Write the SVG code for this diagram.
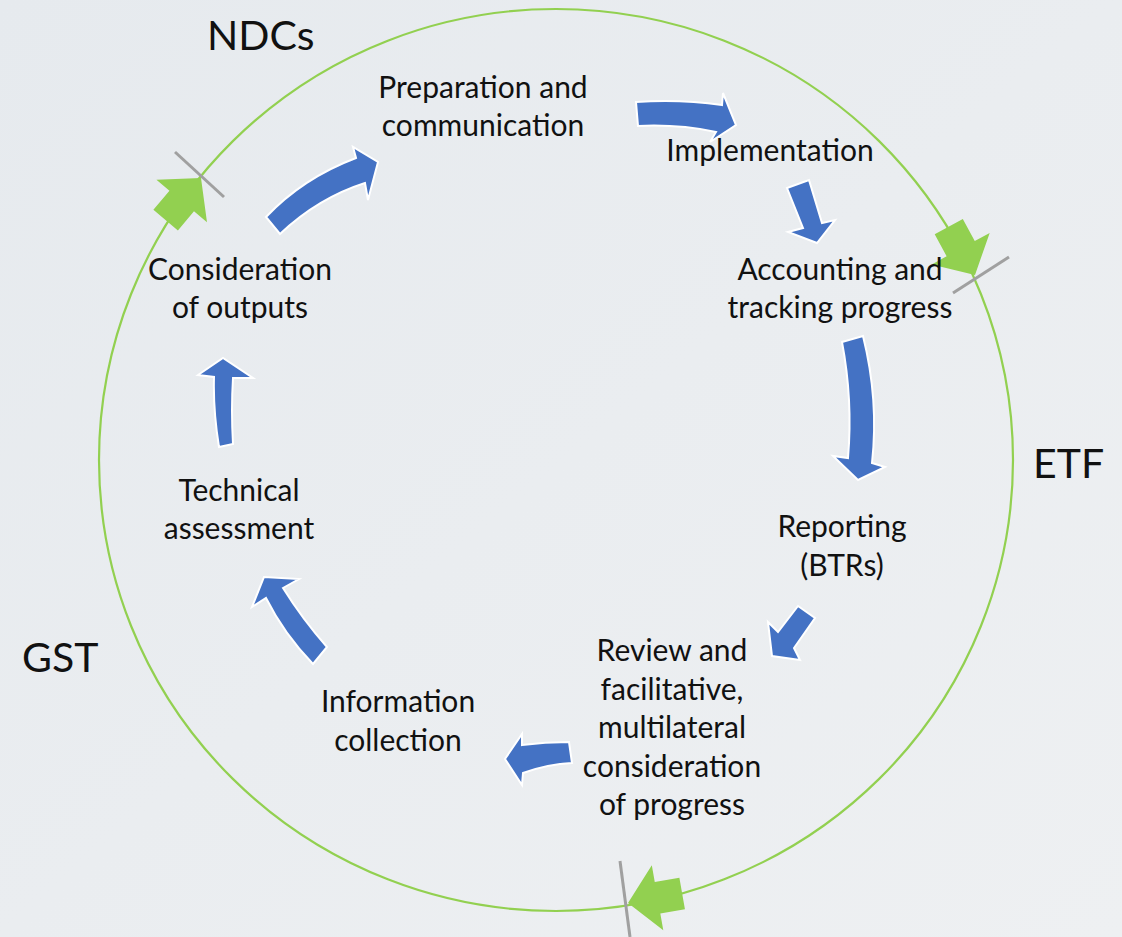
<svg xmlns="http://www.w3.org/2000/svg" width="1122" height="937" viewBox="0 0 1122 937">
<defs>
<style>
.t{font-family:Lato,"Open Sans","Liberation Sans",sans-serif;font-size:30px;fill:#111;text-anchor:middle}
.big{font-family:Lato,"Open Sans","Liberation Sans",sans-serif;font-size:41px;fill:#111}
.blue{fill:#4472c4;stroke:#fff;stroke-width:2;stroke-linejoin:miter}
.green{fill:#92d050}
.tick{stroke:#a0a0a0;stroke-width:3}
</style>
<polygon id="garrow" points="0,0 -30,-33 -30,-16 -55,-16 -55,16 -30,16 -30,33"/>
<linearGradient id="bg" x1="0" y1="0" x2="1" y2="1">
<stop offset="0" stop-color="#e6eaee"/>
<stop offset="1" stop-color="#eef0f2"/>
</linearGradient>
</defs>
<rect width="1122" height="937" fill="url(#bg)"/>
<ellipse cx="556" cy="460" rx="457" ry="451" fill="none" stroke="#92d050" stroke-width="2.2"/>

<g id="connectors">
<path class="blue" d="M266,217 Q303,178 356,158 L353,147 L378,162 L368,200 L365,183 Q318,198 280,234 Z"/>
<path class="blue" d="M636,102 Q680,99 722,105 L723,93 L736,125 L710,142 L716,132 Q678,124 638,126 Z"/>
<path class="blue" d="M787,188 L809,180 L822,223 L835,220 L817,243 L788,232 L803,228 Z"/>
<path class="blue" d="M842,342 Q853,400 848,458 L833,456 L858,480 L885,467 L872,463 Q879,400 863,336 Z"/>
<path class="blue" d="M798,606 L815,618 L794,648 L800,660 L772,656 L768,622 L778,632 Z"/>
<path class="blue" d="M569,742 Q545,742 522,745 L522,734 L505,759 L522,785 L523,773 Q548,764 572,763 Z"/>
<path class="blue" d="M313,664 Q284,634 266,598 L252,607 L264,577 L299,579 L283,588 Q303,620 327,647 Z"/>
<path class="blue" d="M219,447 Q213,410 214,377 L198,375 L223,358 L253,378 L233,378 Q231,410 233,444 Z"/>
</g>

<g id="markers">
<line class="tick" x1="175" y1="152" x2="224" y2="197"/>
<line class="tick" x1="953" y1="293" x2="1009" y2="257"/>
<line class="tick" x1="620" y1="861" x2="630" y2="937"/>
<use href="#garrow" class="green" transform="translate(201,178) rotate(-50)"/>
<use href="#garrow" class="green" transform="translate(975,275) rotate(61.5)"/>
<use href="#garrow" class="green" transform="translate(628,903) rotate(170)"/>
</g>

<g id="label-ndcs"><text class="big" x="207" y="50">NDCs</text></g>
<g id="label-etf"><text class="big" x="1033" y="478">ETF</text></g>
<g id="label-gst"><text class="big" x="22" y="672" font-size="39">GST</text></g>

<g id="node-preparation"><text class="t" x="483" y="98">Preparation and</text><text class="t" x="483" y="136">communication</text></g>
<g id="node-implementation"><text class="t" x="770" y="161">Implementation</text></g>
<g id="node-accounting"><text class="t" x="840" y="280">Accounting and</text><text class="t" x="840" y="318">tracking progress</text></g>
<g id="node-reporting"><text class="t" x="842" y="537">Reporting</text><text class="t" x="842" y="576">(BTRs)</text></g>
<g id="node-review"><text class="t" x="672" y="661">Review and</text><text class="t" x="672" y="700">facilitative,</text><text class="t" x="672" y="738">multilateral</text><text class="t" x="672" y="777">consideration</text><text class="t" x="672" y="815">of progress</text></g>
<g id="node-information"><text class="t" x="398" y="712">Information</text><text class="t" x="398" y="751">collection</text></g>
<g id="node-technical"><text class="t" x="239" y="501">Technical</text><text class="t" x="239" y="539">assessment</text></g>
<g id="node-consideration"><text class="t" x="240" y="280">Consideration</text><text class="t" x="240" y="318">of outputs</text></g>
</svg>
